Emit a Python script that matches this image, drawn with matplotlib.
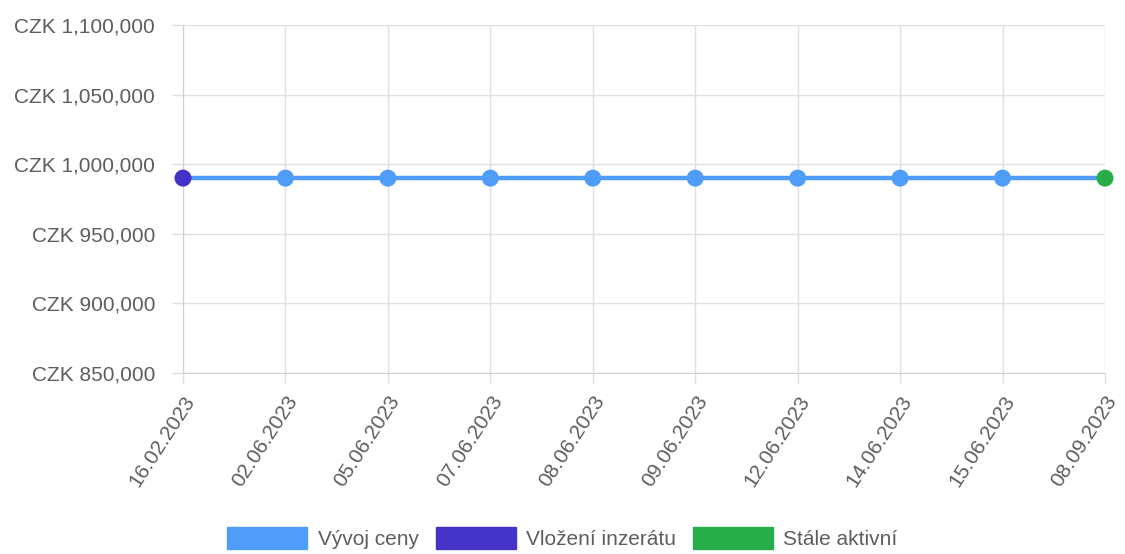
import matplotlib
matplotlib.use("Agg")
import matplotlib.pyplot as plt
from matplotlib.patches import Patch
from matplotlib.ticker import FuncFormatter

dates = ["16.02.2023", "02.06.2023", "05.06.2023", "07.06.2023", "08.06.2023",
         "09.06.2023", "12.06.2023", "14.06.2023", "15.06.2023", "08.09.2023"]
prices = [990000, 990000, 990000, 990000, 990000, 990000, 990000, 990000, 990000, 990000]
y_ticks = [850000, 900000, 950000, 1000000, 1050000, 1100000]
legend_labels = ["Vývoj ceny", "Vložení inzerátu", "Stále aktivní"]

c_line = "#4f9cf9"
c_first = "#4433c6"
c_last = "#27ae4a"

plt.rcParams['font.family'] = ['Liberation Sans', 'DejaVu Sans']

fig = plt.figure(figsize=(11.25, 5.54), dpi=100)
ax = fig.add_axes([183/1125, 1-373/554, (1105-183)/1125, (373-25)/554])

x = list(range(len(dates)))
ax.plot(x, prices, color=c_line, lw=3.2, zorder=3, solid_capstyle='butt', clip_on=False)
colors = [c_first] + [c_line]*(len(dates)-2) + [c_last]
ax.scatter(x, prices, s=150, c=colors, zorder=4, linewidths=0, clip_on=False)

ax.set_xlim(0, len(dates)-1)
ax.set_ylim(y_ticks[0], y_ticks[-1])
ax.set_yticks(y_ticks)
ax.yaxis.set_major_formatter(FuncFormatter(lambda v, p: f"CZK {int(v):,}"))
ax.set_xticks(x)
ax.set_xticklabels(dates, rotation=57, ha='right', rotation_mode='anchor')

ax.grid(True, color='#e0e0e0', lw=1)
ax.set_axisbelow(True)
for s in ['top', 'right']:
    ax.spines[s].set_visible(False)
for s in ['left', 'bottom']:
    ax.spines[s].set_color('#d0d0d0')
ax.tick_params(axis='both', colors='#e0e0e0', labelcolor='#5e5e5e', labelsize=15, length=8, width=1)
ax.tick_params(axis='y', pad=12)
ax.tick_params(axis='x', pad=6)

handles = [Patch(facecolor=c, edgecolor=c) for c in [c_line, c_first, c_last]]
fig.legend(handles, legend_labels, loc='lower center', bbox_to_anchor=(0.5, -0.025), ncol=3,
           frameon=False, fontsize=15, handlelength=3.85, handleheight=1.2, columnspacing=0.8,
           handletextpad=0.5, labelcolor='#5e5e5e')

fig.savefig("out.png", dpi=100)
